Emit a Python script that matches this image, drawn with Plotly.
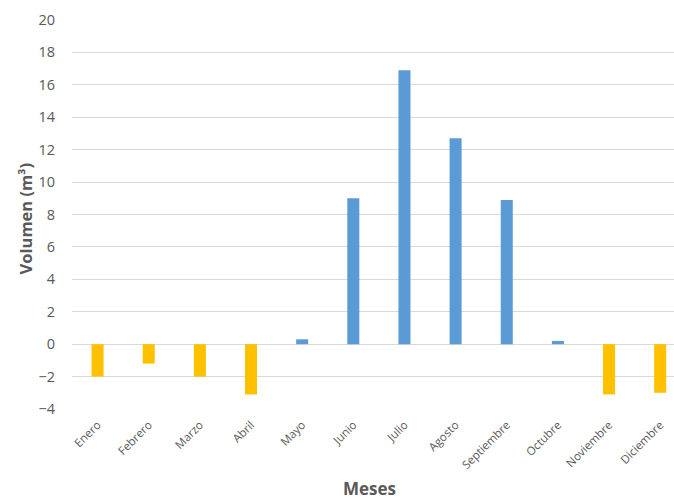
import plotly.graph_objects as go

meses = ["Enero", "Febrero", "Marzo", "Abril", "Mayo", "Junio", "Julio",
         "Agosto", "Septiembre", "Octubre", "Noviembre", "Diciembre"]
volumen = [-2.0, -1.2, -2.0, -3.1, 0.3, 9.0, 16.9, 12.7, 8.9, 0.2, -3.1, -3.0]

AZUL = "#5B9BD5"
AMBAR = "#FFC000"
colores = [AZUL if v >= 0 else AMBAR for v in volumen]

fig = go.Figure(go.Bar(
    x=meses, y=volumen, marker_color=colores, marker_line_width=0, width=0.235,
))

fig.update_layout(
    width=674, height=500,
    margin=dict(l=72, r=0, t=20, b=91),
    paper_bgcolor="white", plot_bgcolor="white",
    font=dict(family="Open Sans, Lato, sans-serif", color="#595959"),
    showlegend=False,
    xaxis=dict(
        range=[-0.5, 11.27], tickangle=-45, tickfont=dict(size=11.5, color="#595959"),
        showgrid=False, showline=False, ticks="", ticklabelstandoff=6,
    ),
    yaxis=dict(
        range=[-4, 20], dtick=2, tickfont=dict(size=14.5, color="#595959"),
        gridcolor="#D9D9D9", gridwidth=1, zeroline=True, zerolinecolor="#D9D9D9",
        zerolinewidth=1, showline=False, ticks="", ticklen=0, ticklabelstandoff=16,
    ),
    annotations=[
        dict(text="<b>Meses</b>", x=0.495, y=-0.205, xref="paper", yref="paper",
             xanchor="center", yanchor="middle", showarrow=False,
             font=dict(size=17, color="#595959")),
        dict(text="<b>Volumen (m³)</b>", x=-0.078, y=0.49, xref="paper", yref="paper",
             xanchor="center", yanchor="middle", showarrow=False, textangle=-90,
             font=dict(size=16.5, color="#595959")),
    ],
)

fig.write_html("out.html")
